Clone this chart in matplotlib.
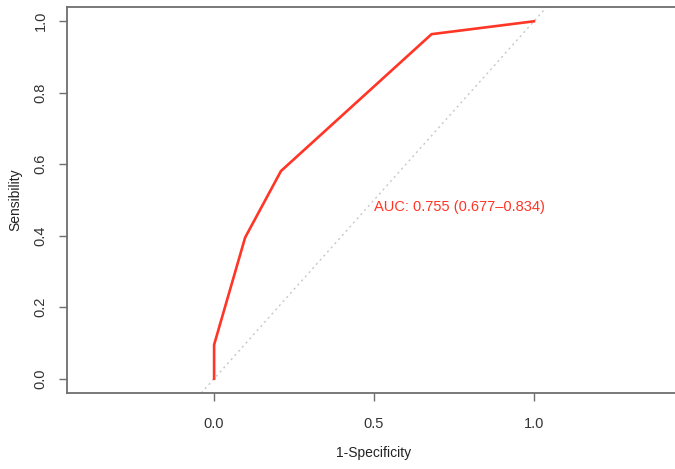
import matplotlib
matplotlib.use("Agg")
import matplotlib.pyplot as plt

# ROC curve points (1 - specificity, sensitivity)
fpr = [0.0, 0.0, 0.097, 0.209, 0.680, 1.0]
tpr = [0.0, 0.095, 0.395, 0.581, 0.964, 1.0]
auc_label = "AUC: 0.755 (0.677\u20130.834)"
xticks = [0.0, 0.5, 1.0]
yticks = [0.0, 0.2, 0.4, 0.6, 0.8, 1.0]

plt.rcParams['font.family'] = ['Liberation Sans', 'DejaVu Sans']

fig = plt.figure(figsize=(6.75, 4.69), dpi=100)
ax = fig.add_axes([67 / 675, 1 - 393 / 469, 614 / 675, 386 / 469])

red = "#ff3526"
axcol = "#6e6e6e"

# chance diagonal across the whole panel
ax.axline((0, 0), (1, 1), color="#c8c8c8", lw=1.0, ls=(0, (1.5, 2.5)))
ax.plot(fpr, tpr, color=red, lw=1.9, solid_joinstyle="miter")
ax.text(0.5, 0.48, auc_label, color=red, fontsize=10.5, ha="left", va="center")

ax.set_xlim(-0.46, 1.46)
ax.set_ylim(-0.04, 1.04)
ax.set_xticks(xticks)
ax.set_yticks(yticks)
ax.set_xticklabels([f"{t:.1f}" for t in xticks])
ax.set_yticklabels([f"{t:.1f}" for t in yticks], rotation=90, va="center")
ax.tick_params(colors=axcol, labelcolor="#333333", labelsize=10.5, length=6, width=1.0)
ax.tick_params(axis="x", pad=11)
ax.tick_params(axis="y", pad=8)
for s in ax.spines.values():
    s.set_color(axcol)
    s.set_linewidth(1.3)

ax.set_xlabel("1-Specificity", fontsize=10, color="#222222", labelpad=11)
ax.set_ylabel("Sensibility", fontsize=10, color="#222222", labelpad=8)

fig.savefig("out.png", dpi=100)
